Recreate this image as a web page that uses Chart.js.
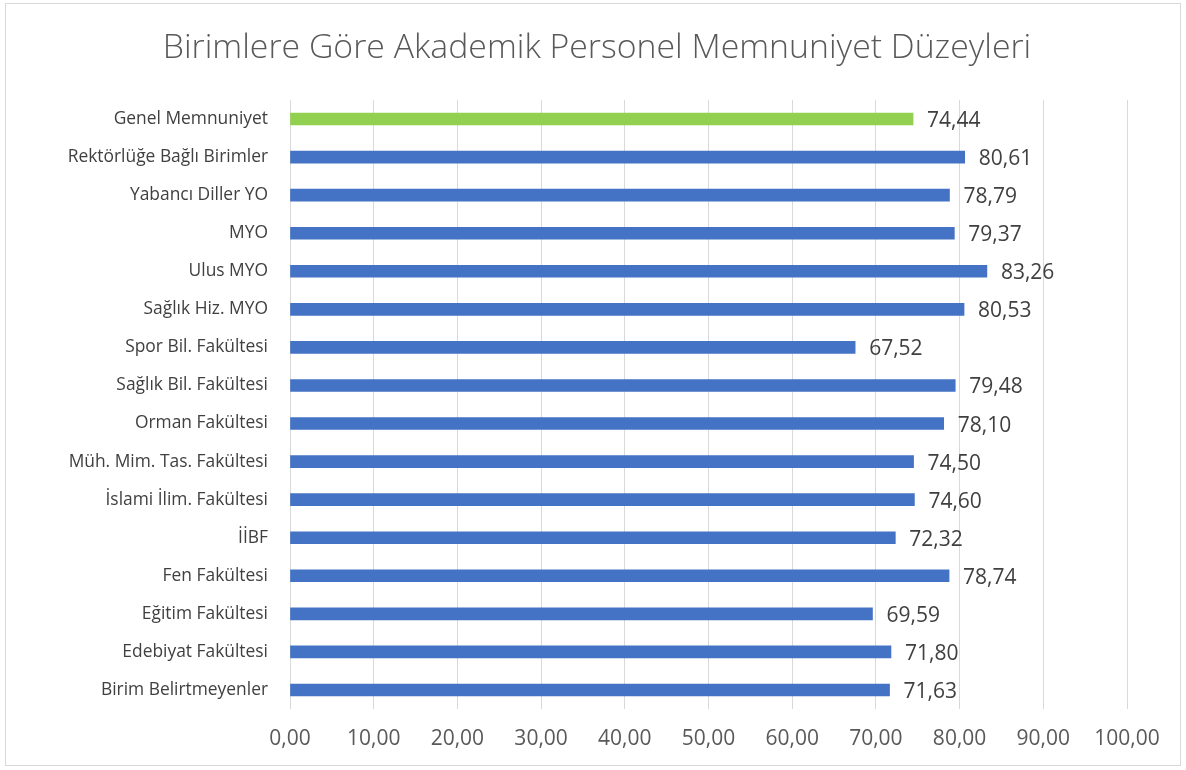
<!DOCTYPE html>
<html>
<head>
<meta charset="utf-8">
<script src="https://cdn.jsdelivr.net/npm/chart.js@4/dist/chart.umd.min.js"></script>
<style>
  html, body { margin: 0; padding: 0; background: #fff; }
</style>
</head>
<body>
<canvas id="chart" width="1186" height="770"></canvas>
<script>
// values, top bar first
var units = [
    'Genel Memnuniyet',
    'Rektörlüğe Bağlı Birimler',
    'Yabancı Diller YO',
    'MYO',
    'Ulus MYO',
    'Sağlık Hiz. MYO',
    'Spor Bil. Fakültesi',
    'Sağlık Bil. Fakültesi',
    'Orman Fakültesi',
    'Müh. Mim. Tas. Fakültesi',
    'İslami İlim. Fakültesi',
    'İİBF',
    'Fen Fakültesi',
    'Eğitim Fakültesi',
    'Edebiyat Fakültesi',
    'Birim Belirtmeyenler'
];
var scores = [74.44, 80.61, 78.79, 79.37, 83.26, 80.53, 67.52, 79.48, 78.10, 74.50, 74.60, 72.32, 78.74, 69.59, 71.80, 71.63];
var xTicks = [0, 10, 20, 30, 40, 50, 60, 70, 80, 90, 100];
var chartTitle = 'Birimlere Göre Akademik Personel Memnuniyet Düzeyleri';

var FONT = "'Open Sans', 'Noto Sans', sans-serif";

function fmt(v) {
    return v.toFixed(2).replace('.', ',');
}

var barColors = [];
for (var i = 0; i < units.length; i++) {
    barColors.push(i === 0 ? '#92D050' : '#4472C4');
}

// white background, thin frame and the title centred on the whole picture
var frame = {
    id: 'frame',
    beforeDraw: function (chart) {
        var ctx = chart.ctx;
        ctx.save();
        ctx.fillStyle = '#fff';
        ctx.fillRect(0, 0, chart.width, chart.height);
        ctx.strokeStyle = '#d9d9d9';
        ctx.lineWidth = 1;
        ctx.strokeRect(5.5, 3.5, 1175, 762);
        ctx.font = '300 33.8px ' + FONT;
        ctx.fillStyle = '#595959';
        ctx.textAlign = 'center';
        ctx.textBaseline = 'middle';
        ctx.fillText(chartTitle, 597, 48);
        ctx.restore();
    }
};

// value labels at the end of each bar
var valueLabels = {
    id: 'valueLabels',
    afterDatasetsDraw: function (chart) {
        var ctx = chart.ctx;
        var meta = chart.getDatasetMeta(0);
        ctx.save();
        ctx.font = '21px ' + FONT;
        ctx.fillStyle = '#404040';
        ctx.textAlign = 'left';
        ctx.textBaseline = 'middle';
        meta.data.forEach(function (bar, i) {
            ctx.fillText(fmt(scores[i]), bar.x + 14, bar.y + 2);
        });
        ctx.restore();
    }
};

var ctx = document.getElementById('chart').getContext('2d');
var chart = new Chart(ctx, {
    type: 'bar',
    data: {
        labels: units,
        datasets: [{
            data: scores,
            backgroundColor: barColors,
            barThickness: 12
        }]
    },
    options: {
        indexAxis: 'y',
        responsive: false,
        animation: false,
        layout: {
            padding: { left: 0, right: 59, top: 100, bottom: 0 }
        },
        plugins: {
            legend: { display: false },
            tooltip: { enabled: false },
            title: { display: false }
        },
        scales: {
            x: {
                min: 0,
                max: 100,
                afterBuildTicks: function (scale) {
                    scale.ticks = xTicks.map(function (v) { return { value: v }; });
                },
                afterFit: function (scale) {
                    scale.height = 61;
                },
                ticks: {
                    color: '#595959',
                    font: { family: FONT, size: 21 },
                    padding: 17,
                    callback: function (v) { return fmt(v); }
                },
                grid: {
                    color: '#d9d9d9',
                    lineWidth: 1,
                    drawTicks: false
                },
                border: { display: false }
            },
            y: {
                afterFit: function (scale) {
                    scale.width = 290;
                },
                ticks: {
                    color: '#404040',
                    font: { family: FONT, size: 17.4 },
                    padding: 22
                },
                grid: { display: false, drawTicks: false },
                border: { display: false }
            }
        }
    },
    plugins: [frame, valueLabels]
});
</script>
</body>
</html>
